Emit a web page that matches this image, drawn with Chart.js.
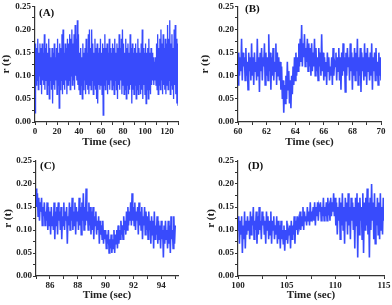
<!DOCTYPE html>
<html>
<head>
<meta charset="utf-8">
<script src="https://cdn.jsdelivr.net/npm/chart.js@4/dist/chart.umd.min.js"></script>
<style>
  body { margin: 0; background: #fff; }
  #wrap { position: relative; width: 392px; height: 305px; }
  canvas { position: absolute; }
</style>
</head>
<body>
<div id="wrap">
  <canvas id="cA" width="196" height="152" style="left:0;top:0"></canvas>
  <canvas id="cB" width="196" height="152" style="left:196px;top:0"></canvas>
  <canvas id="cC" width="196" height="153" style="left:0;top:152px"></canvas>
  <canvas id="cD" width="196" height="153" style="left:196px;top:152px"></canvas>
</div>
<script>
var startA = 0, stepA = 0.5;
var rA = [
  0.02, 0.17, 0.08, 0.16, 0.09, 0.18, 0.07, 0.15, 0.10, 0.17, 0.08, 0.16, 0.06, 0.17, 0.09, 0.15, 0.08, 0.19, 0.07, 0.16,
  0.09, 0.17, 0.06, 0.15, 0.08, 0.18, 0.05, 0.16, 0.09, 0.14, 0.07, 0.16, 0.04, 0.15, 0.08, 0.17, 0.07, 0.14, 0.09, 0.16,
  0.06, 0.18, 0.08, 0.15, 0.03, 0.17, 0.07, 0.16, 0.09, 0.19, 0.06, 0.20, 0.08, 0.15, 0.07, 0.17, 0.09, 0.16, 0.06, 0.18,
  0.08, 0.17, 0.09, 0.19, 0.07, 0.18, 0.10, 0.20, 0.08, 0.17, 0.09, 0.19, 0.07, 0.21, 0.10, 0.18, 0.09, 0.22, 0.08, 0.19,
  0.07, 0.15, 0.06, 0.16, 0.08, 0.14, 0.05, 0.17, 0.07, 0.15, 0.09, 0.16, 0.06, 0.18, 0.08, 0.15, 0.07, 0.19, 0.06, 0.20,
  0.08, 0.16, 0.07, 0.20, 0.09, 0.17, 0.06, 0.15, 0.08, 0.18, 0.07, 0.16, 0.05, 0.17, 0.04, 0.15, 0.08, 0.16, 0.07, 0.18,
  0.08, 0.15, 0.06, 0.17, 0.015, 0.16, 0.08, 0.19, 0.07, 0.16, 0.09, 0.17, 0.06, 0.15, 0.08, 0.18, 0.07, 0.16, 0.09, 0.15,
  0.07, 0.17, 0.08, 0.16, 0.06, 0.18, 0.09, 0.15, 0.07, 0.17, 0.05, 0.16, 0.08, 0.19, 0.07, 0.16, 0.09, 0.18, 0.06, 0.20,
  0.08, 0.17, 0.06, 0.15, 0.07, 0.18, 0.05, 0.16, 0.08, 0.17, 0.06, 0.15, 0.07, 0.19, 0.08, 0.16, 0.04, 0.17, 0.07, 0.15,
  0.06, 0.16, 0.08, 0.17, 0.05, 0.15, 0.07, 0.18, 0.06, 0.16, 0.08, 0.15, 0.06, 0.17, 0.07, 0.20, 0.05, 0.16, 0.08, 0.15,
  0.06, 0.17, 0.04, 0.15, 0.07, 0.16, 0.05, 0.18, 0.07, 0.15, 0.06, 0.16, 0.08, 0.15, 0.09, 0.14, 0.08, 0.13, 0.09, 0.14,
  0.08, 0.17, 0.07, 0.19, 0.06, 0.16, 0.08, 0.18, 0.07, 0.20, 0.09, 0.17, 0.06, 0.19, 0.08, 0.16, 0.07, 0.18, 0.06, 0.17,
  0.08, 0.21, 0.07, 0.18, 0.09, 0.22, 0.06, 0.17, 0.08, 0.19, 0.07, 0.16, 0.05, 0.20, 0.08, 0.21, 0.06, 0.18, 0.04, 0.17, 0.035
];

var startB = 60, stepB = 0.05;
var rB = [
  0.08, 0.15, 0.10, 0.14, 0.11, 0.18, 0.09, 0.15, 0.12, 0.14, 0.09, 0.16, 0.10, 0.13, 0.07, 0.15, 0.11, 0.14, 0.09, 0.17,
  0.10, 0.14, 0.08, 0.15, 0.11, 0.13, 0.09, 0.18, 0.10, 0.14, 0.065, 0.15, 0.11, 0.16, 0.09, 0.14, 0.12, 0.17, 0.08, 0.15,
  0.10, 0.14, 0.09, 0.19, 0.11, 0.15, 0.07, 0.14, 0.10, 0.16, 0.09, 0.13, 0.11, 0.17, 0.08, 0.15, 0.10, 0.14, 0.09, 0.13,
  0.07, 0.12, 0.05, 0.09, 0.02, 0.08, 0.04, 0.10, 0.05, 0.13, 0.07, 0.11, 0.04, 0.09, 0.03, 0.10, 0.06, 0.12, 0.08, 0.14,
  0.09, 0.15, 0.10, 0.14, 0.11, 0.17, 0.12, 0.18, 0.13, 0.21, 0.12, 0.17, 0.14, 0.19, 0.12, 0.16, 0.13, 0.18, 0.11, 0.17,
  0.12, 0.16, 0.10, 0.17, 0.11, 0.15, 0.12, 0.18, 0.10, 0.16, 0.11, 0.14, 0.09, 0.16, 0.12, 0.15, 0.10, 0.19, 0.11, 0.15,
  0.09, 0.14, 0.10, 0.13, 0.08, 0.15, 0.11, 0.14, 0.09, 0.12, 0.10, 0.14, 0.08, 0.16, 0.10, 0.13, 0.12, 0.15, 0.09, 0.14,
  0.11, 0.16, 0.09, 0.14, 0.07, 0.15, 0.10, 0.17, 0.11, 0.14, 0.065, 0.15, 0.10, 0.16, 0.12, 0.14, 0.09, 0.17, 0.11, 0.15,
  0.07, 0.14, 0.10, 0.16, 0.09, 0.15, 0.11, 0.18, 0.08, 0.14, 0.10, 0.16, 0.065, 0.15, 0.11, 0.14, 0.09, 0.17, 0.10, 0.15,
  0.08, 0.16, 0.11, 0.14, 0.09, 0.15, 0.10, 0.17, 0.07, 0.14, 0.11, 0.15, 0.09, 0.16, 0.10, 0.13, 0.08, 0.15, 0.10, 0.14, 0.09
];

var startC = 85, stepC = 0.05;
var rC = [
  0.19, 0.15, 0.18, 0.13, 0.17, 0.12, 0.16, 0.14, 0.17, 0.11, 0.15, 0.13, 0.16, 0.11, 0.14, 0.12, 0.16, 0.10, 0.15, 0.11,
  0.14, 0.09, 0.15, 0.11, 0.13, 0.10, 0.16, 0.08, 0.14, 0.11, 0.15, 0.09, 0.16, 0.12, 0.14, 0.10, 0.15, 0.08, 0.13, 0.11,
  0.16, 0.10, 0.14, 0.12, 0.15, 0.07, 0.13, 0.11, 0.16, 0.10, 0.15, 0.12, 0.17, 0.10, 0.14, 0.11, 0.16, 0.09, 0.15, 0.12,
  0.14, 0.10, 0.17, 0.11, 0.15, 0.09, 0.16, 0.12, 0.18, 0.10, 0.15, 0.11, 0.19, 0.12, 0.14, 0.10, 0.16, 0.11, 0.15, 0.09,
  0.14, 0.10, 0.15, 0.08, 0.13, 0.11, 0.14, 0.09, 0.12, 0.10, 0.13, 0.07, 0.12, 0.09, 0.11, 0.08, 0.12, 0.07, 0.10, 0.08,
  0.10, 0.06, 0.09, 0.07, 0.10, 0.05, 0.08, 0.06, 0.09, 0.05, 0.08, 0.06, 0.10, 0.05, 0.09, 0.07, 0.10, 0.06, 0.11, 0.07,
  0.10, 0.08, 0.12, 0.09, 0.11, 0.08, 0.13, 0.10, 0.12, 0.09, 0.14, 0.10, 0.15, 0.11, 0.14, 0.12, 0.16, 0.11, 0.18, 0.12,
  0.15, 0.11, 0.16, 0.10, 0.14, 0.12, 0.15, 0.09, 0.16, 0.11, 0.14, 0.10, 0.15, 0.08, 0.13, 0.11, 0.15, 0.09, 0.14, 0.10,
  0.13, 0.08, 0.14, 0.10, 0.12, 0.07, 0.13, 0.09, 0.12, 0.06, 0.14, 0.08, 0.11, 0.09, 0.13, 0.07, 0.12, 0.08, 0.11, 0.06,
  0.12, 0.08, 0.10, 0.04, 0.11, 0.07, 0.12, 0.08, 0.10, 0.06, 0.12, 0.07, 0.11, 0.05, 0.13, 0.08, 0.10, 0.06, 0.13, 0.07, 0.11
];

var startD = 100, stepD = 0.075;
var rD = [
  0.10, 0.13, 0.07, 0.12, 0.09, 0.13, 0.05, 0.11, 0.08, 0.14, 0.06, 0.12, 0.09, 0.13, 0.10, 0.12, 0.08, 0.14, 0.09, 0.13,
  0.11, 0.15, 0.08, 0.12, 0.10, 0.14, 0.07, 0.13, 0.09, 0.15, 0.10, 0.12, 0.08, 0.14, 0.11, 0.13, 0.09, 0.12, 0.07, 0.14,
  0.10, 0.13, 0.08, 0.12, 0.09, 0.14, 0.07, 0.12, 0.10, 0.13, 0.08, 0.11, 0.09, 0.13, 0.07, 0.12, 0.08, 0.11, 0.06, 0.12,
  0.08, 0.10, 0.07, 0.11, 0.055, 0.10, 0.08, 0.12, 0.07, 0.10, 0.09, 0.11, 0.06, 0.12, 0.08, 0.11, 0.09, 0.13, 0.07, 0.12,
  0.10, 0.13, 0.09, 0.12, 0.11, 0.14, 0.10, 0.13, 0.11, 0.15, 0.10, 0.14, 0.12, 0.13, 0.11, 0.15, 0.12, 0.14, 0.11, 0.16,
  0.12, 0.14, 0.13, 0.15, 0.12, 0.16, 0.11, 0.15, 0.13, 0.16, 0.12, 0.15, 0.14, 0.16, 0.12, 0.15, 0.13, 0.17, 0.12, 0.15,
  0.13, 0.16, 0.12, 0.17, 0.14, 0.15, 0.12, 0.17, 0.13, 0.16, 0.14, 0.18, 0.13, 0.17, 0.11, 0.16, 0.09, 0.15, 0.12, 0.17,
  0.08, 0.16, 0.11, 0.18, 0.10, 0.15, 0.07, 0.17, 0.12, 0.16, 0.09, 0.18, 0.11, 0.15, 0.08, 0.17, 0.12, 0.16, 0.10, 0.15,
  0.06, 0.17, 0.11, 0.18, 0.04, 0.16, 0.09, 0.17, 0.12, 0.15, 0.08, 0.18, 0.05, 0.16, 0.10, 0.17, 0.11, 0.19, 0.09, 0.16,
  0.04, 0.17, 0.10, 0.20, 0.12, 0.16, 0.08, 0.18, 0.07, 0.15, 0.11, 0.17, 0.09, 0.16, 0.08, 0.18, 0.10, 0.15, 0.09, 0.17, 0.12
];

var yTicks = ['0.00', '0.05', '0.10', '0.15', '0.20', '0.25'];

var FONT = '"Liberation Serif", "DejaVu Serif", serif';
var AXIS = '#333';

// panel letter in the top-left corner of the plot
var letterPlugin = {
    id: 'letter',
    afterDraw: function (chart, args, opts) {
        var ctx = chart.ctx;
        ctx.save();
        ctx.font = 'bold 11px ' + FONT;
        ctx.fillStyle = '#111';
        ctx.textBaseline = 'middle';
        ctx.fillText(opts.text, chart.chartArea.left + opts.dx, chart.chartArea.top + opts.dy);
        ctx.restore();
    }
};

function makePanel(id, start, step, values, p) {
    var pts = values.map(function (v, i) {
        return { x: +(start + i * step).toFixed(4), y: v };
    });
    return new Chart(document.getElementById(id), {
        type: 'line',
        data: {
            datasets: [{
                data: pts,
                borderColor: 'rgba(28,50,252,0.88)',
                borderWidth: p.lw,
                pointRadius: 0,
                tension: 0,
                fill: false
            }]
        },
        options: {
            responsive: false,
            animation: false,
            devicePixelRatio: 1,
            layout: { padding: { left: p.padL, right: p.padR, top: p.padT, bottom: 0 } },
            plugins: {
                legend: { display: false },
                tooltip: { enabled: false },
                letter: { text: p.letter, dx: p.lx, dy: p.ly }
            },
            scales: {
                x: {
                    type: 'linear',
                    min: p.xMin,
                    max: p.xMax,
                    afterFit: function (s) { s.height = p.xH; },
                    border: { display: true, color: AXIS, width: 1.2 },
                    grid: { display: true, drawOnChartArea: false, tickLength: 3, color: AXIS },
                    ticks: {
                        stepSize: p.xMinor,
                        includeBounds: false,
                        autoSkip: false,
                        maxRotation: 0,
                        padding: 1,
                        color: '#222',
                        font: { family: FONT, size: 9, weight: 'bold' },
                        callback: function (v) {
                            var r = Math.abs(v / p.xMajor - Math.round(v / p.xMajor));
                            return r < 1e-6 ? String(Math.round(v)) : '';
                        }
                    },
                    title: {
                        display: true,
                        text: 'Time (sec)',
                        color: '#222',
                        padding: { top: 0, bottom: 3 },
                        font: { family: FONT, size: 11, weight: 'bold' }
                    }
                },
                y: {
                    min: 0,
                    max: 0.25,
                    afterFit: function (s) { s.width = p.yW; },
                    border: { display: true, color: AXIS, width: 1.2 },
                    grid: { display: true, drawOnChartArea: false, tickLength: 3, color: AXIS },
                    ticks: {
                        stepSize: 0.025,
                        autoSkip: false,
                        padding: 1,
                        color: '#222',
                        font: { family: FONT, size: 9, weight: 'bold' },
                        callback: function (v, i) {
                            return i % 2 === 0 ? yTicks[i / 2] : '';
                        }
                    },
                    title: {
                        display: true,
                        text: 'r (t)',
                        color: '#222',
                        padding: 0,
                        font: { family: FONT, size: 11, weight: 'bold' }
                    }
                }
            }
        },
        plugins: [letterPlugin]
    });
}

makePanel('cA', startA, stepA, rA, { xMin: 0, xMax: 130, xMinor: 10, xMajor: 20, lw: 1.3,
    padL: 0, yW: 35, padR: 18, padT: 5, xH: 30, letter: '(A)', lx: 4, ly: 7 });
makePanel('cB', startB, stepB, rB, { xMin: 60, xMax: 70, xMinor: 1, xMajor: 2, lw: 1.6,
    padL: 3, yW: 39, padR: 11, padT: 5, xH: 30, letter: '(B)', lx: 7, ly: 3 });
makePanel('cC', startC, stepC, rC, { xMin: 85, xMax: 95.2, xMinor: 1, xMajor: 2, lw: 1.6,
    padL: 2, yW: 34, padR: 18, padT: 9, xH: 29, letter: '(C)', lx: 4, ly: 5 });
makePanel('cD', startD, stepD, rD, { xMin: 100, xMax: 115, xMinor: 2.5, xMajor: 5, lw: 1.6,
    padL: 9, yW: 33, padR: 8, padT: 9, xH: 29, letter: '(D)', lx: 10, ly: 5 });
</script>
</body>
</html>
